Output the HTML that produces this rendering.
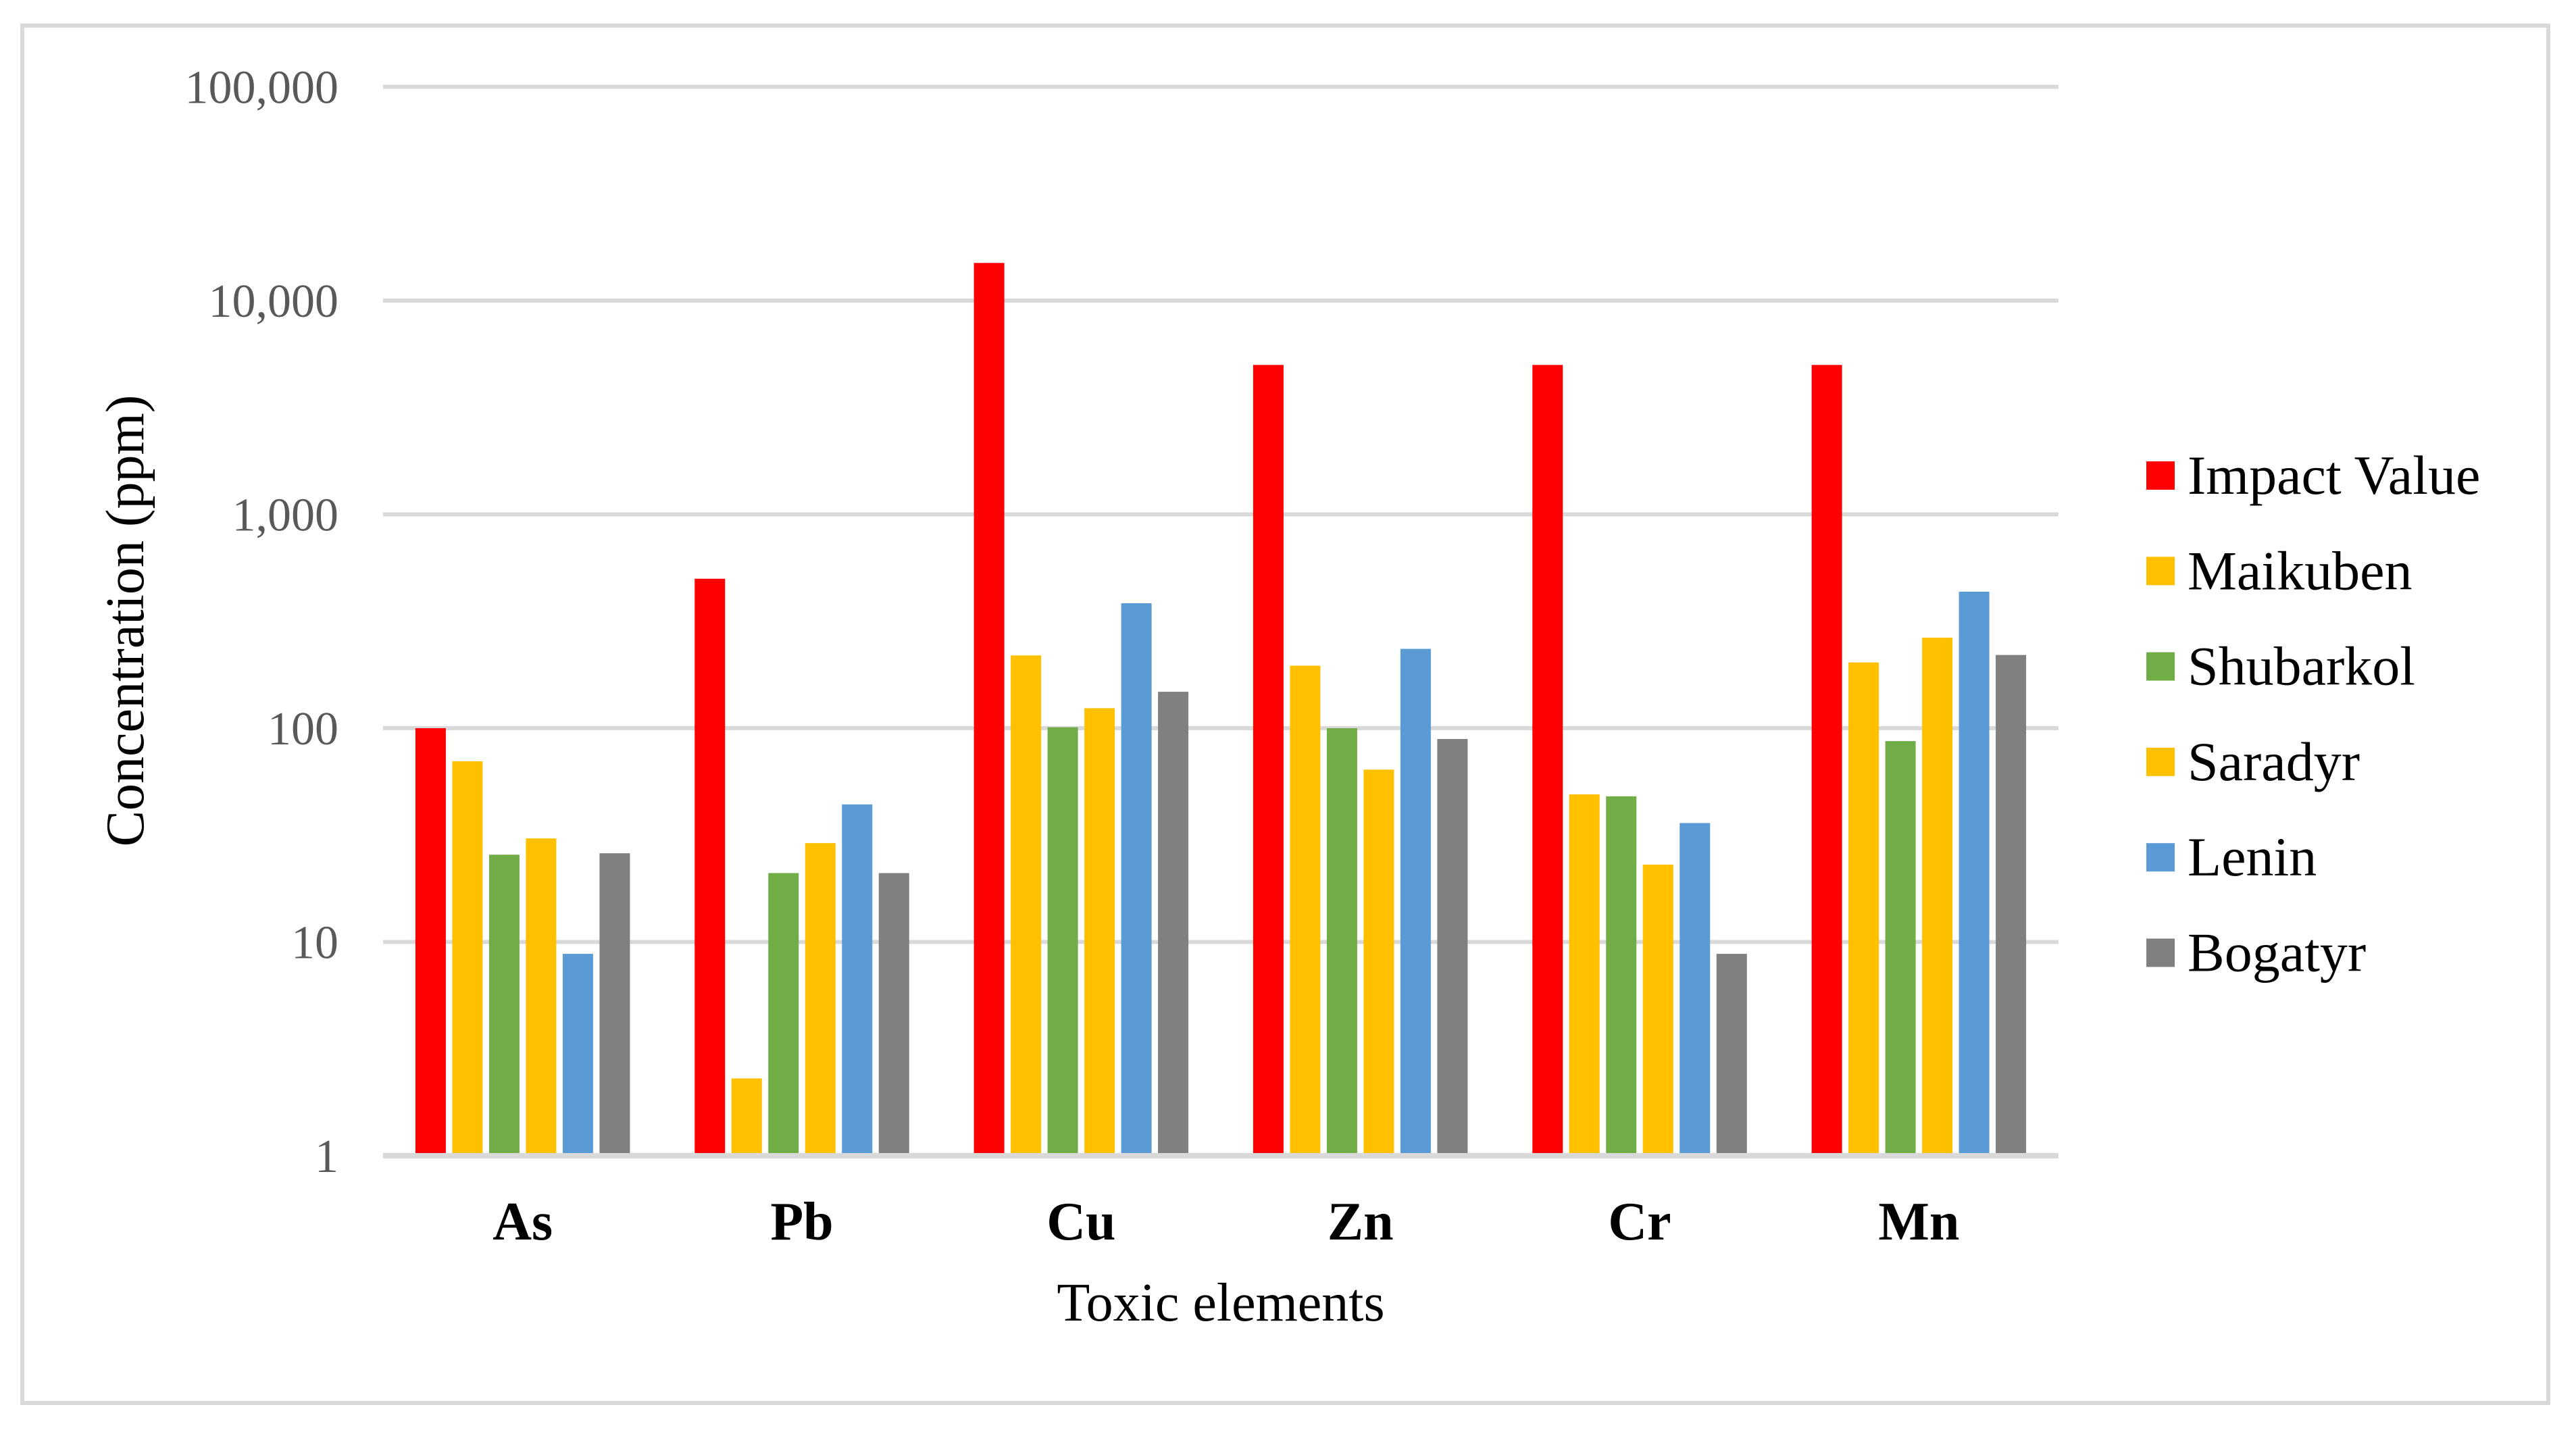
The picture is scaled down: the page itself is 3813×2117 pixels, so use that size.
<!DOCTYPE html>
<html><head><meta charset="utf-8"><style>
html,body{margin:0;padding:0;background:#fff;}
svg{display:block;}
text{font-family:"Liberation Serif",serif;}
</style></head><body>
<svg id="chart" width="3813" height="2117" viewBox="0 0 3813 2117" xmlns="http://www.w3.org/2000/svg">
<rect x="33" y="38" width="3739" height="2039" fill="#fff" stroke="#d9d9d9" stroke-width="6"/>
<g id="grid"></g>
<g id="bars"></g>
<g id="yticks"></g>
<g id="xticks"></g>
<text x="0" y="0" transform="translate(212,919) rotate(-90)" text-anchor="middle" font-size="80" fill="#000">Concentration (ppm)</text>
<text x="1807" y="1955" text-anchor="middle" font-size="80" fill="#000">Toxic elements</text>
<g id="legend"></g>
</svg>
<script>
const categories = ["As","Pb","Cu","Zn","Cr","Mn"];
const seriesNames = ["Impact Value","Maikuben","Shubarkol","Saradyr","Lenin","Bogatyr"];
const seriesColors = ["#ff0000","#ffc000","#70ad47","#ffc000","#5b9bd5","#808080"];
const impactValue = [100,500,15000,5000,5000,5000];
const maikuben = [70,2.3,219,196,49,203];
const shubarkol = [25.6,21,101,100,48,87];
const saradyr = [30.5,29,124,64,23,265];
const lenin = [8.8,44,384,235,36,435];
const bogatyr = [26,21,148,89,8.8,220];
const tickValues = [1,10,100,1000,10000,100000];
const tickLabels = ["1","10","100","1,000","10,000","100,000"];
const allSeries = [impactValue,maikuben,shubarkol,saradyr,lenin,bogatyr];

const NS="http://www.w3.org/2000/svg";
const plotL=567, plotR=3047, y0=1711, decade=316.5;
function yScale(v){return y0-decade*Math.log10(v);}
const groupW=(plotR-plotL)/categories.length;
function xCenter(i){return plotL+groupW*(i+0.5);}
const barW=45, pitch=54.5;
function mk(tag,attrs,parent){const e=document.createElementNS(NS,tag);for(const k in attrs)e.setAttribute(k,attrs[k]);parent.appendChild(e);return e;}

const grid=document.getElementById('grid');
const yt=document.getElementById('yticks');
tickValues.forEach((v,i)=>{
  const y=yScale(v);
  const l=mk('line',{x1:plotL,x2:plotR,y1:y,y2:y,stroke:'#d9d9d9','stroke-width':i===0?8:6},grid);
  
  
  const t=mk('text',{x:501,y:y+24,'text-anchor':'end','font-size':70,fill:'#595959'},yt);
  t.textContent=tickLabels[i];
  
  
});

const bars=document.getElementById('bars');
categories.forEach((c,ci)=>{
  const start=xCenter(ci)-(pitch*allSeries.length-(pitch-barW))/2;
  allSeries.forEach((s,si)=>{
    const y=yScale(s[ci]);
    const r=mk('rect',{x:start+si*pitch,y:y,width:barW,height:y0-4-y,fill:seriesColors[si]},bars);
    
    
  });
});

const xt=document.getElementById('xticks');
categories.forEach((c,ci)=>{
  const t=mk('text',{x:xCenter(ci),y:1835,'text-anchor':'middle','font-size':80,'font-weight':'bold',fill:'#000'},xt);
  t.textContent=c;
  
  
});

const lg=document.getElementById('legend');


seriesNames.forEach((n,i)=>{
  const y=683+i*141.3;
  const g=mk('g',{},lg);
  
  
  mk('rect',{x:3177,y:y,width:42,height:42,fill:seriesColors[i]},g);
  const t=mk('text',{x:3238,y:y+48,'font-size':82,fill:'#000'},g);
  t.textContent=n;
});
</script>
</body></html>
